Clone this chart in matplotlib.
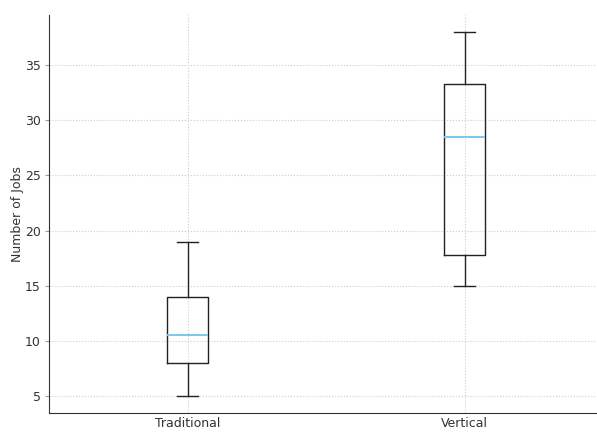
import matplotlib.pyplot as plt

# Job counts per farming method, summarised as box statistics
methods = ["Traditional", "Vertical"]
whisker_low = [5, 15]
q1 = [8, 17.8]
median = [10.5, 28.5]
q3 = [14, 33.3]
whisker_high = [19, 38]

stats = []
for i, name in enumerate(methods):
    stats.append({
        "label": name,
        "whislo": whisker_low[i],
        "q1": q1[i],
        "med": median[i],
        "q3": q3[i],
        "whishi": whisker_high[i],
        "fliers": [],
    })

fig = plt.figure(figsize=(5.97, 4.32), dpi=100)
ax = fig.add_axes([49 / 597, 1 - 413 / 432, 554 / 597, 398 / 432])

line_col = "#222222"
ax.bxp(stats, positions=[1, 2], widths=0.15, showfliers=False,
       boxprops=dict(color=line_col, linewidth=1.0),
       whiskerprops=dict(color=line_col, linewidth=1.0),
       capprops=dict(color=line_col, linewidth=1.0),
       medianprops=dict(color="#7cc6ee", linewidth=1.4))

ax.set_xlim(0.5, 2.5)
ax.set_ylim(3.45, 39.55)
ax.set_yticks([5, 10, 15, 20, 25, 30, 35])
ax.set_ylabel("Number of Jobs", fontsize=9, color="#333333")
ax.yaxis.set_label_coords(-0.046, 0.5)

ax.grid(True, linestyle=":", color="#cccccc", linewidth=0.8)
ax.set_axisbelow(True)
for side in ["top", "right"]:
    ax.spines[side].set_visible(False)
for side in ["left", "bottom"]:
    ax.spines[side].set_color("#333333")

ax.tick_params(axis="y", labelsize=9, labelcolor="#333333", color="#999999",
               length=3, direction="out", pad=3)
ax.tick_params(axis="x", labelsize=9, labelcolor="#333333", length=0, pad=3)

fig.savefig("out.png", dpi=100)
